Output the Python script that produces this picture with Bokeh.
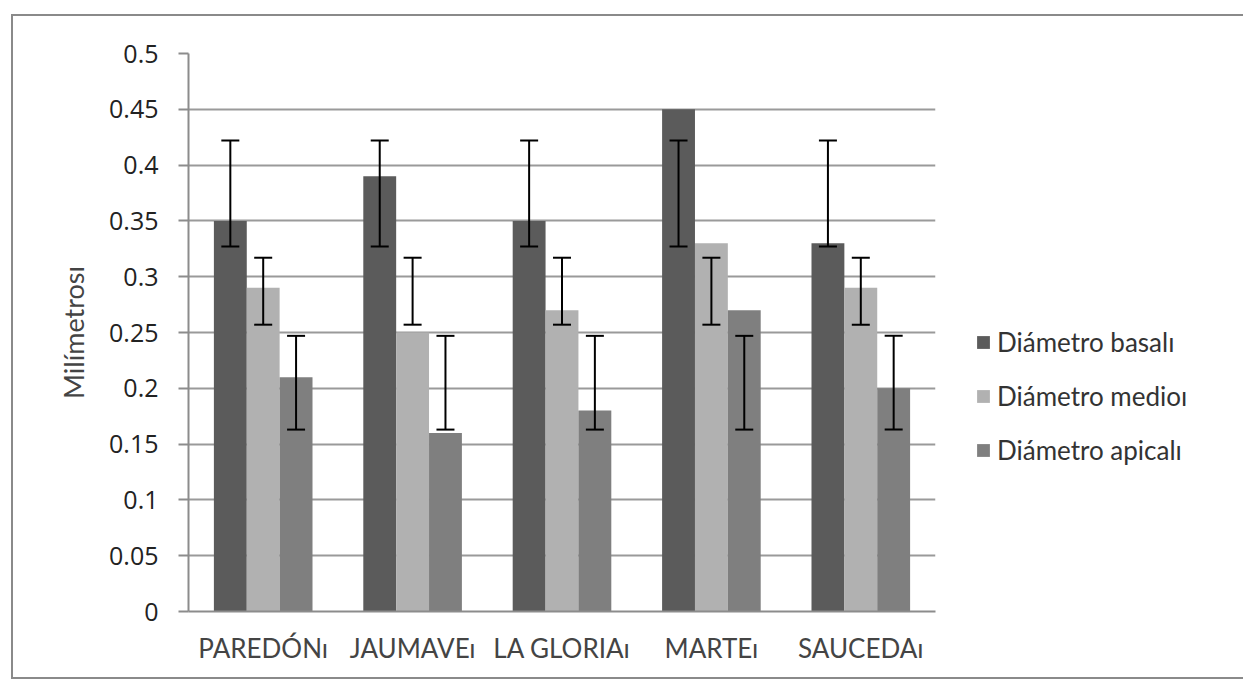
from bokeh.plotting import figure
from bokeh.models import ColumnDataSource, FactorRange, Whisker, TeeHead, Legend, LegendItem, FixedTicker
from bokeh.transform import dodge
from bokeh.embed import file_html
from bokeh.resources import INLINE

categories = ["PAREDÓNı", "JAUMAVEı", "LA GLORIAı", "MARTEı", "SAUCEDAı"]
series_names = ["Diámetro basalı", "Diámetro medioı", "Diámetro apicalı"]
basal = [0.35, 0.39, 0.35, 0.45, 0.33]
medio = [0.29, 0.25, 0.27, 0.33, 0.29]
apical = [0.21, 0.16, 0.18, 0.27, 0.20]
basal_err_low = [0.327, 0.327, 0.327, 0.327, 0.327]
basal_err_high = [0.422, 0.422, 0.422, 0.422, 0.422]
medio_err_low = [0.257, 0.257, 0.257, 0.257, 0.257]
medio_err_high = [0.317, 0.317, 0.317, 0.317, 0.317]
apical_err_low = [0.163, 0.163, 0.163, 0.163, 0.163]
apical_err_high = [0.247, 0.247, 0.247, 0.247, 0.247]
y_ticks = [0, 0.05, 0.1, 0.15, 0.2, 0.25, 0.3, 0.35, 0.4, 0.45, 0.5]

colors = ["#5b5b5b", "#b1b1b1", "#7f7f7f"]
bar_w = 0.22
offsets = [-bar_w, 0.0, bar_w]

p = figure(x_range=FactorRange(factors=categories), y_range=(0, 0.5),
           frame_width=747, frame_height=558, output_backend="svg", toolbar_location=None,
           min_border_left=175, min_border_right=0, min_border_top=37, min_border_bottom=66,
           margin=(14, 0, 0, 11),
           styles={"border-top": "2px solid #8a8a8a", "border-left": "2px solid #8a8a8a",
                   "border-bottom": "2px solid #8a8a8a"})
p.outline_line_color = None
p.background_fill_color = "white"
p.border_fill_color = "white"

series = [
    (basal, basal_err_low, basal_err_high),
    (medio, medio_err_low, medio_err_high),
    (apical, apical_err_low, apical_err_high),
]
renderers = []
for (vals, lo, hi), col, off in zip(series, colors, offsets):
    src = ColumnDataSource(dict(cat=categories, val=vals, lo=lo, hi=hi))
    r = p.vbar(x=dodge("cat", off, range=p.x_range), top="val", width=bar_w,
               source=src, fill_color=col, line_color=None)
    renderers.append(r)
    w = Whisker(base=dodge("cat", off, range=p.x_range), upper="hi", lower="lo", source=src,
                line_color="black", line_width=2, level="overlay",
                upper_head=TeeHead(size=18, line_color="black", line_width=2),
                lower_head=TeeHead(size=18, line_color="black", line_width=2))
    p.add_layout(w)

# axes
p.yaxis.ticker = FixedTicker(ticks=y_ticks)
p.yaxis.major_label_overrides = {0: "0"}
p.yaxis.axis_line_color = "#8c8c8c"
p.yaxis.axis_line_width = 2
p.yaxis.major_tick_line_color = "#8c8c8c"
p.yaxis.major_tick_line_width = 2
p.yaxis.major_tick_out = 10
p.yaxis.major_tick_in = 0
p.yaxis.minor_tick_line_color = None
p.yaxis.major_label_text_font = "Open Sans"
p.yaxis.major_label_text_font_size = "25px"
p.yaxis.major_label_text_color = "#222222"
p.yaxis.major_label_standoff = 20
p.yaxis.axis_label = "Milímetrosı"
p.yaxis.axis_label_text_font = "Lato"
p.yaxis.axis_label_text_font_style = "normal"
p.yaxis.axis_label_text_font_size = "27px"
p.yaxis.axis_label_text_color = "#444444"
p.yaxis.axis_label_standoff = 16

p.xaxis.axis_line_color = "#8c8c8c"
p.xaxis.axis_line_width = 2
p.xaxis.major_tick_line_color = None
p.xaxis.minor_tick_line_color = None
p.xaxis.major_label_text_font = "Lato"
p.xaxis.major_label_text_font_size = "26px"
p.xaxis.major_label_text_color = "#444444"
p.xaxis.major_label_standoff = 14

p.xgrid.grid_line_color = None
p.ygrid.grid_line_color = "#9a9a9a"
p.ygrid.grid_line_width = 2

legend = Legend(items=[LegendItem(label=n, renderers=[r]) for n, r in zip(series_names, renderers)],
                location=(40, 145), orientation="vertical",
                glyph_width=16, glyph_height=16, label_standoff=6,
                label_text_font="Lato", label_text_font_size="26px", label_text_color="#333333",
                label_height=26, spacing=22, padding=0, margin=0,
                background_fill_alpha=0, border_line_color=None)
p.add_layout(legend, "right")

open("out.html", "w").write(file_html(p, INLINE))
